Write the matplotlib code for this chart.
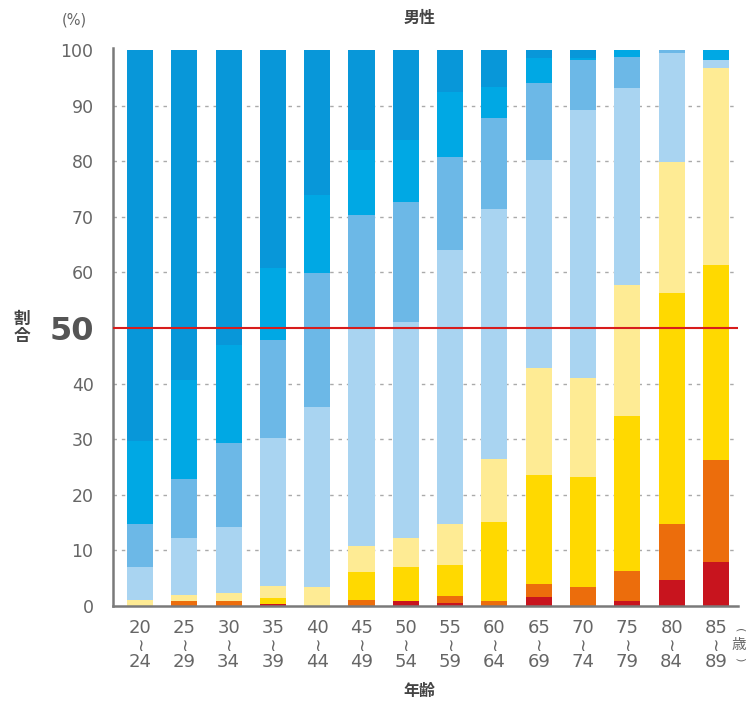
import matplotlib
matplotlib.use("Agg")
import matplotlib.pyplot as plt
import matplotlib.transforms as mtransforms
import numpy as np

plt.rcParams['font.family'] = ['Noto Sans CJK JP', 'DejaVu Sans']

# Age groups (lower / upper bound of each band)
age_from = ["20", "25", "30", "35", "40", "45", "50", "55", "60", "65", "70", "75", "80", "85"]
age_to = ["24", "29", "34", "39", "44", "49", "54", "59", "64", "69", "74", "79", "84", "89"]

# Share (%) of each stacked segment, bottom to top
seg_darkred = [0, 0, 0, 0.4, 0, 0, 0.9, 0.5, 0, 1.6, 0, 0.9, 4.7, 7.9]
seg_orange = [0, 0.9, 0.9, 0, 0, 1.0, 0, 1.3, 0.9, 2.4, 3.4, 5.4, 10.0, 18.4]
seg_gold = [0, 0, 0, 1.0, 0, 5.1, 6.1, 5.6, 14.2, 19.6, 19.8, 27.9, 41.6, 35.0]
seg_paleyellow = [1.1, 1.0, 1.4, 2.2, 3.5, 4.7, 5.2, 7.3, 11.3, 19.2, 17.8, 23.5, 23.6, 35.5]
seg_paleblue = [5.9, 10.3, 11.9, 26.6, 32.3, 39.2, 38.9, 49.3, 45.0, 37.4, 48.2, 35.5, 19.6, 1.4]
seg_midblue = [7.7, 10.6, 15.1, 17.6, 24.1, 20.3, 21.5, 16.8, 16.4, 13.9, 9.0, 5.5, 0.5, 0]
seg_cyan = [15.0, 17.8, 17.6, 13.0, 14.0, 11.7, 11.2, 11.7, 5.6, 4.5, 0.3, 1.3, 0, 1.8]
seg_deepblue = [70.3, 59.4, 53.1, 39.2, 26.1, 18.0, 16.2, 7.5, 6.6, 1.4, 1.5, 0, 0, 0]

y_ticks = [0, 10, 20, 30, 40, 50, 60, 70, 80, 90, 100]

segments = [seg_darkred, seg_orange, seg_gold, seg_paleyellow,
            seg_paleblue, seg_midblue, seg_cyan, seg_deepblue]
colors = ["#c8141e", "#ec6d0c", "#ffd900", "#feeb94",
          "#a9d4f1", "#6cb8e7", "#00a8e4", "#0897d9"]

fig = plt.figure(figsize=(7.55, 7.07), dpi=100)
ax = fig.add_axes([0.1497, 0.1429, 0.8278, 0.7892])

x = np.arange(len(age_from))
bottom = np.zeros(len(x))
for vals, col in zip(segments, colors):
    v = np.array(vals, dtype=float)
    ax.bar(x, v, bottom=bottom, width=0.59, color=col, linewidth=0, zorder=2)
    bottom += v

ax.set_xlim(-0.61, 13.5)
ax.set_ylim(0, 100.36)

# dotted grid, the 50% line is drawn in red on top of the bars
for t in y_ticks[1:-1]:
    if t == 50:
        continue
    ax.axhline(t, color="#aaaaaa", linestyle=(0, (2.5, 3.5)), linewidth=1.0, zorder=1)
ax.axhline(50, color="#d81c1c", linewidth=1.5, zorder=3)

for s in ["top", "right"]:
    ax.spines[s].set_visible(False)
for s in ["left", "bottom"]:
    ax.spines[s].set_color("#7a7a7a")
    ax.spines[s].set_linewidth(1.8)

ax.tick_params(axis="both", length=0)
ax.set_yticks(y_ticks)
ax.set_yticklabels([str(t) for t in y_ticks])
for lbl, t in zip(ax.get_yticklabels(), y_ticks):
    lbl.set_family("DejaVu Sans")
    if t == 50:
        lbl.set_fontsize(23)
        lbl.set_fontweight("bold")
        lbl.set_color("#555555")
    else:
        lbl.set_fontsize(12.5)
        lbl.set_color("#666666")
ax.tick_params(axis="y", pad=14)

# age-band labels: "20 ≀ 24"
ax.set_xticks(x)
ax.set_xticklabels([])
trans = mtransforms.blended_transform_factory(ax.transData, ax.transAxes)
for xi, a, b in zip(x, age_from, age_to):
    ax.text(xi, -0.04, a, transform=trans, ha="center", va="center",
            fontsize=13, color="#666666", family="DejaVu Sans")
    ax.text(xi, -0.071, "≀", transform=trans, ha="center", va="center",
            fontsize=12.5, color="#666666", family="DejaVu Sans")
    ax.text(xi, -0.101, b, transform=trans, ha="center", va="center",
            fontsize=13, color="#666666", family="DejaVu Sans")

# unit marks and axis titles
fig.text(0.098, 0.972, "(%)", ha="center", va="center", fontsize=10.5, color="#666666",
         family="DejaVu Sans")
fig.text(0.556, 0.974, "男性", ha="center", va="center", fontsize=11.5,
         fontweight="bold", color="#444444")
fig.text(0.029, 0.537, "割\n合", ha="center", va="center", fontsize=12,
         fontweight="bold", color="#444444", linespacing=0.95)
fig.text(0.556, 0.022, "年齢", ha="center", va="center", fontsize=11.5,
         fontweight="bold", color="#444444")

# vertical "(歳)" unit beside the last age band
fig.text(0.979, 0.108, "(", ha="center", va="center", fontsize=8, rotation=-90,
         color="#666666", family="DejaVu Sans")
fig.text(0.979, 0.088, "歳", ha="center", va="center", fontsize=10.5, color="#666666")
fig.text(0.979, 0.067, ")", ha="center", va="center", fontsize=8, rotation=-90,
         color="#666666", family="DejaVu Sans")

fig.savefig("out.png", dpi=100, facecolor="white")
